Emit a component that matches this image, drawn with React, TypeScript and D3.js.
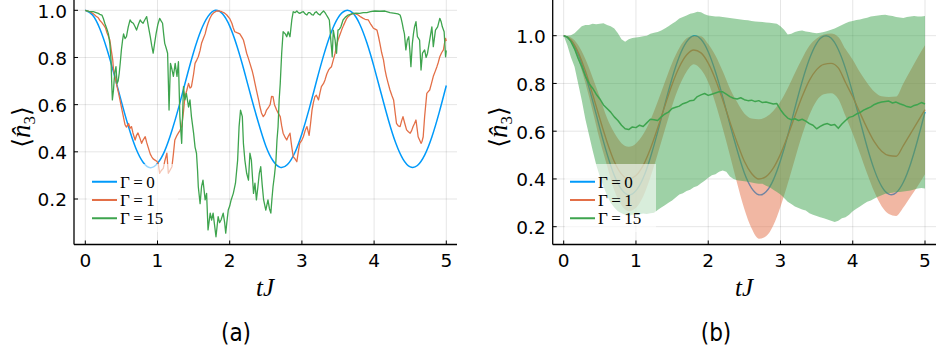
import React from "react";
import * as d3 from "d3";

// ---- shared labels and styling constants ----
const X_TICKS = [0, 1, 2, 3, 4, 5];
const Y_TICKS = [0.2, 0.4, 0.6, 0.8, 1.0];
const LEGEND_LABELS = ["Γ\u2009=\u20090", "Γ\u2009=\u20091", "Γ\u2009=\u200915"];
const SERIES_COLORS = ["#009AFA", "#E36F47", "#3EA44E"];
const PANEL_LABELS = ["(a)", "(b)"];

// sampling steps of the tabulated curves
const DT_COARSE = 0.1;
const DT_FINE = 0.05;

// Γ = 0 : coherent evolution of <n3>, sampled every 0.1
const gamma0 = [
  1.0, 0.98, 0.923, 0.835, 0.728, 0.613, 0.505, 0.415, 0.356, 0.333,
  0.351, 0.404, 0.49, 0.596, 0.712, 0.822, 0.913, 0.974, 1.0, 0.985,
  0.933, 0.849, 0.744, 0.629, 0.521, 0.425, 0.362, 0.334, 0.346, 0.395,
  0.477, 0.581, 0.697, 0.808, 0.902, 0.968, 0.998, 0.99, 0.942, 0.862,
  0.759, 0.645, 0.533, 0.437, 0.369, 0.336, 0.342, 0.386, 0.463, 0.565,
  0.681,
];

// single quantum trajectory, Γ = 1  ([tJ, <n3>])
const gamma1Traj: [number, number][] = [
  [0, 1], [0.04, 0.996], [0.08, 0.992], [0.11, 0.985], [0.15, 0.975], [0.18, 0.968], [0.2, 0.958],
  [0.23, 0.948], [0.26, 0.935], [0.28, 0.925], [0.3, 0.905], [0.32, 0.89], [0.34, 0.874], [0.36, 0.83],
  [0.38, 0.79], [0.39, 0.75], [0.41, 0.72], [0.43, 0.69], [0.46, 0.65], [0.48, 0.62], [0.5, 0.59],
  [0.52, 0.56], [0.55, 0.515], [0.57, 0.505], [0.6, 0.52], [0.62, 0.5], [0.64, 0.507], [0.66, 0.48],
  [0.69, 0.45], [0.71, 0.47], [0.73, 0.48], [0.76, 0.455], [0.78, 0.436], [0.8, 0.45], [0.83, 0.464],
  [0.85, 0.44], [0.87, 0.42], [0.9, 0.39], [0.92, 0.379], [0.94, 0.37], [0.965, 0.365], [0.99, 0.36],
  [1.01, 0.351], [1.03, 0.309], [1.05, 0.32], [1.08, 0.33], [1.1, 0.36], [1.13, 0.394], [1.14, 0.35],
  [1.15, 0.309], [1.17, 0.32], [1.2, 0.337], [1.22, 0.39], [1.24, 0.45], [1.27, 0.47], [1.29, 0.48],
  [1.31, 0.49], [1.335, 0.507], [1.36, 0.57], [1.38, 0.634], [1.405, 0.66], [1.43, 0.69], [1.45, 0.67],
  [1.47, 0.676], [1.5, 0.73], [1.52, 0.775], [1.545, 0.79], [1.565, 0.803], [1.59, 0.83], [1.61, 0.86],
  [1.635, 0.88], [1.66, 0.9], [1.68, 0.925], [1.7, 0.945], [1.725, 0.965], [1.75, 0.98], [1.78, 0.99],
  [1.82, 0.997], [1.86, 0.997], [1.89, 0.994], [1.93, 0.988], [1.96, 0.98], [2.0, 0.965], [2.03, 0.945],
  [2.05, 0.925], [2.07, 0.909], [2.1, 0.905], [2.14, 0.9], [2.17, 0.885], [2.19, 0.874], [2.21, 0.85],
  [2.235, 0.818], [2.26, 0.795], [2.28, 0.775], [2.31, 0.745], [2.33, 0.72], [2.35, 0.69], [2.37, 0.662],
  [2.4, 0.62], [2.42, 0.59], [2.44, 0.565], [2.465, 0.549], [2.49, 0.56], [2.51, 0.577], [2.54, 0.59],
  [2.56, 0.6], [2.58, 0.635], [2.6, 0.634], [2.62, 0.6], [2.65, 0.577], [2.67, 0.565], [2.7, 0.549],
  [2.72, 0.51], [2.74, 0.479], [2.77, 0.46], [2.79, 0.45], [2.81, 0.465], [2.835, 0.479], [2.86, 0.42],
  [2.88, 0.379], [2.905, 0.37], [2.93, 0.358], [2.95, 0.4], [2.97, 0.436], [3.0, 0.45], [3.02, 0.464],
  [3.045, 0.49], [3.07, 0.507], [3.1, 0.47], [3.12, 0.52], [3.14, 0.577], [3.16, 0.61], [3.18, 0.634],
  [3.2, 0.64], [3.23, 0.62], [3.25, 0.65], [3.27, 0.676], [3.3, 0.69], [3.32, 0.705], [3.345, 0.73],
  [3.37, 0.747], [3.39, 0.755], [3.41, 0.761], [3.435, 0.79], [3.46, 0.818], [3.48, 0.85], [3.5, 0.874],
  [3.525, 0.895], [3.55, 0.916], [3.575, 0.935], [3.6, 0.952], [3.62, 0.965], [3.64, 0.973], [3.675, 0.982],
  [3.71, 0.987], [3.745, 0.985], [3.78, 0.98], [3.815, 0.972], [3.85, 0.966], [3.875, 0.962], [3.92, 0.959],
  [3.955, 0.94], [3.99, 0.924], [4.015, 0.92], [4.04, 0.916], [4.06, 0.89], [4.08, 0.86], [4.105, 0.82],
  [4.13, 0.79], [4.15, 0.75], [4.17, 0.72], [4.195, 0.69], [4.22, 0.662], [4.245, 0.64], [4.27, 0.62],
  [4.29, 0.57], [4.31, 0.521], [4.335, 0.51], [4.36, 0.507], [4.38, 0.53], [4.4, 0.549], [4.425, 0.52],
  [4.45, 0.493], [4.475, 0.485], [4.5, 0.479], [4.52, 0.49], [4.54, 0.507], [4.56, 0.52], [4.58, 0.535],
  [4.595, 0.5], [4.61, 0.464], [4.63, 0.45], [4.65, 0.436], [4.665, 0.445], [4.68, 0.464], [4.7, 0.55],
  [4.73, 0.648], [4.75, 0.655], [4.77, 0.662], [4.795, 0.69], [4.82, 0.72], [4.845, 0.74], [4.87, 0.761],
  [4.89, 0.78], [4.91, 0.803], [4.935, 0.82], [4.96, 0.832], [4.975, 0.86], [4.99, 0.881], [5.0, 0.87],
];

// single quantum trajectory, Γ = 15  ([tJ, <n3>])
const gamma15Traj: [number, number][] = [
  [0, 1], [0.05, 0.995], [0.11, 0.994], [0.15, 0.99], [0.18, 0.987], [0.2, 0.983], [0.23, 0.98],
  [0.25, 0.965], [0.27, 0.945], [0.3, 0.92], [0.32, 0.9], [0.34, 0.86], [0.356, 0.79], [0.365, 0.7],
  [0.375, 0.62], [0.39, 0.66], [0.4, 0.705], [0.41, 0.74], [0.425, 0.761], [0.44, 0.69], [0.455, 0.7],
  [0.47, 0.733], [0.485, 0.78], [0.5, 0.832], [0.515, 0.87], [0.53, 0.9], [0.55, 0.88], [0.57, 0.888],
  [0.595, 0.93], [0.62, 0.959], [0.64, 0.95], [0.665, 0.945], [0.69, 0.93], [0.71, 0.916], [0.735, 0.94],
  [0.76, 0.959], [0.78, 0.95], [0.8, 0.945], [0.825, 0.96], [0.85, 0.973], [0.875, 0.93], [0.9, 0.888],
  [0.92, 0.85], [0.94, 0.818], [0.96, 0.86], [0.98, 0.9], [1.005, 0.94], [1.03, 0.966], [1.05, 0.955],
  [1.07, 0.945], [1.085, 0.9], [1.1, 0.86], [1.12, 0.84], [1.14, 0.818], [1.15, 0.7], [1.16, 0.577],
  [1.17, 0.68], [1.18, 0.775], [1.2, 0.75], [1.22, 0.72], [1.245, 0.775], [1.27, 0.72], [1.29, 0.782],
  [1.31, 0.55], [1.335, 0.436], [1.36, 0.676], [1.38, 0.62], [1.4, 0.648], [1.43, 0.59], [1.45, 0.62],
  [1.47, 0.549], [1.5, 0.479], [1.52, 0.42], [1.54, 0.394], [1.555, 0.32], [1.565, 0.252], [1.59, 0.18],
  [1.61, 0.252], [1.63, 0.28], [1.66, 0.196], [1.68, 0.224], [1.7, 0.069], [1.73, 0.14], [1.75, 0.111],
  [1.77, 0.14], [1.79, 0.09], [1.81, 0.04], [1.84, 0.125], [1.86, 0.1], [1.88, 0.111], [1.91, 0.14],
  [1.93, 0.1], [1.945, 0.055], [1.96, 0.1], [1.98, 0.153], [2.0, 0.17], [2.02, 0.196], [2.05, 0.224],
  [2.08, 0.267], [2.11, 0.365], [2.13, 0.507], [2.15, 0.577], [2.175, 0.549], [2.19, 0.436], [2.21, 0.365],
  [2.235, 0.309], [2.26, 0.28], [2.28, 0.394], [2.3, 0.365], [2.33, 0.224], [2.35, 0.267], [2.37, 0.196],
  [2.39, 0.25], [2.41, 0.309], [2.43, 0.337], [2.45, 0.26], [2.47, 0.196], [2.5, 0.153], [2.53, 0.196],
  [2.55, 0.16], [2.57, 0.14], [2.585, 0.2], [2.6, 0.252], [2.62, 0.3], [2.64, 0.36], [2.655, 0.45],
  [2.67, 0.507], [2.685, 0.62], [2.7, 0.69], [2.72, 0.818], [2.74, 0.909], [2.77, 0.9], [2.79, 0.888],
  [2.81, 0.909], [2.835, 0.888], [2.86, 0.959], [2.88, 0.994], [2.905, 0.99], [2.93, 0.997], [2.95, 0.99],
  [2.97, 0.987], [3.0, 0.992], [3.02, 0.994], [3.045, 0.985], [3.07, 0.98], [3.09, 0.99], [3.11, 0.99],
  [3.135, 0.982], [3.16, 0.98], [3.18, 0.99], [3.2, 0.994], [3.225, 0.985], [3.25, 0.98], [3.275, 0.99],
  [3.3, 0.997], [3.32, 0.99], [3.34, 0.98], [3.36, 0.97], [3.38, 0.959], [3.39, 0.92], [3.4, 0.874],
  [3.41, 0.84], [3.42, 0.803], [3.435, 0.916], [3.45, 0.89], [3.46, 0.874], [3.47, 0.84], [3.48, 0.818],
  [3.49, 0.87], [3.5, 0.916], [3.52, 0.92], [3.54, 0.93], [3.57, 0.959], [3.6, 0.97], [3.64, 0.98],
  [3.67, 0.983], [3.71, 0.987], [3.75, 0.988], [3.8, 0.987], [3.85, 0.99], [3.9, 0.99], [3.95, 0.994],
  [4.01, 0.997], [4.08, 0.996], [4.15, 0.997], [4.22, 0.99], [4.29, 0.987], [4.33, 0.985], [4.36, 0.98],
  [4.375, 0.965], [4.39, 0.945], [4.405, 0.92], [4.42, 0.9], [4.44, 0.832], [4.46, 0.874], [4.48, 0.888],
  [4.495, 0.83], [4.51, 0.761], [4.53, 0.86], [4.545, 0.9], [4.56, 0.93], [4.58, 0.952], [4.6, 0.888],
  [4.63, 0.874], [4.65, 0.747], [4.67, 0.818], [4.7, 0.832], [4.72, 0.8], [4.74, 0.818], [4.77, 0.874],
  [4.8, 0.93], [4.82, 0.846], [4.85, 0.916], [4.88, 0.93], [4.91, 0.966], [4.93, 0.95], [4.945, 0.93],
  [4.97, 0.909], [4.99, 0.803], [5.0, 0.83],
];

// ensemble average and spread, Γ = 1, sampled every 0.1
const gamma1Mean = [
  1.0, 0.982, 0.931, 0.852, 0.755, 0.652, 0.555, 0.473, 0.42, 0.4,
  0.414, 0.457, 0.527, 0.613, 0.706, 0.796, 0.869, 0.919, 0.94, 0.928,
  0.885, 0.817, 0.732, 0.639, 0.552, 0.474, 0.423, 0.4, 0.41, 0.445,
  0.504, 0.58, 0.664, 0.745, 0.813, 0.858, 0.88, 0.884, 0.865, 0.804,
  0.744, 0.677, 0.612, 0.555, 0.516, 0.498, 0.495, 0.54, 0.59, 0.64,
  0.69,
];
const gamma1Std = [
  0, 0.01, 0.03, 0.05, 0.07, 0.09, 0.1, 0.12, 0.13, 0.135,
  0.135, 0.13, 0.12, 0.11, 0.1, 0.09, 0.08, 0.07, 0.06, 0.07,
  0.08, 0.1, 0.12, 0.14, 0.17, 0.2, 0.23, 0.25, 0.25, 0.24,
  0.22, 0.2, 0.18, 0.16, 0.145, 0.13, 0.125, 0.125, 0.13, 0.14,
  0.155, 0.17, 0.19, 0.21, 0.23, 0.245, 0.25, 0.26, 0.265, 0.27,
  0.27,
];

// ensemble average and band, Γ = 15, sampled every 0.05
const gamma15Mean = [
  1.0, 0.995, 0.975, 0.945, 0.905, 0.87, 0.83, 0.8, 0.78, 0.755,
  0.735, 0.71, 0.695, 0.68, 0.66, 0.645, 0.625, 0.61, 0.607, 0.618,
  0.615, 0.625, 0.62, 0.635, 0.65, 0.648, 0.645, 0.66, 0.672, 0.68,
  0.695, 0.7, 0.705, 0.715, 0.72, 0.728, 0.73, 0.745, 0.752, 0.758,
  0.75, 0.755, 0.76, 0.765, 0.765, 0.755, 0.745, 0.738, 0.735, 0.74,
  0.732, 0.728, 0.73, 0.724, 0.728, 0.72, 0.722, 0.718, 0.714, 0.716,
  0.69, 0.67, 0.655, 0.648, 0.652, 0.645, 0.65, 0.642, 0.632, 0.625,
  0.61, 0.62, 0.628, 0.632, 0.625, 0.628, 0.612, 0.63, 0.645, 0.658,
  0.662, 0.672, 0.678, 0.688, 0.695, 0.702, 0.712, 0.718, 0.722, 0.724,
  0.726, 0.718, 0.722, 0.715, 0.71, 0.703, 0.7, 0.708, 0.712, 0.72,
  0.714,
];
const gamma15Upper = [
  1.0, 1.0, 1.002, 1.01, 1.025, 1.04, 1.045, 1.045, 1.05, 1.048,
  1.05, 1.052, 1.045, 1.04, 1.03, 1.01, 0.985, 0.975, 0.985, 0.99,
  0.992, 0.995, 0.998, 1.0, 1.008, 1.012, 1.015, 1.022, 1.03, 1.04,
  1.05, 1.06, 1.072, 1.078, 1.085, 1.092, 1.095, 1.1, 1.098, 1.09,
  1.085, 1.083, 1.08, 1.08, 1.078, 1.076, 1.074, 1.072, 1.07, 1.068,
  1.066, 1.065, 1.062, 1.06, 1.058, 1.057, 1.055, 1.054, 1.052, 1.05,
  1.04, 1.025, 1.005, 1.008, 1.015, 1.02, 1.022, 1.018, 1.015, 1.012,
  1.01, 1.012, 1.015, 1.02, 1.025, 1.03, 1.038, 1.045, 1.052, 1.058,
  1.062, 1.066, 1.068, 1.072, 1.075, 1.08, 1.082, 1.085, 1.087, 1.088,
  1.085, 1.082, 1.078, 1.076, 1.074, 1.078, 1.08, 1.083, 1.08, 1.08,
  1.082,
];
const gamma15Lower = [
  1.0, 0.96, 0.91, 0.87, 0.8, 0.73, 0.65, 0.585, 0.52, 0.46,
  0.41, 0.37, 0.33, 0.3, 0.28, 0.265, 0.256, 0.25, 0.245, 0.25,
  0.25, 0.252, 0.255, 0.253, 0.256, 0.258, 0.27, 0.28, 0.29, 0.3,
  0.31, 0.322, 0.335, 0.34, 0.35, 0.355, 0.365, 0.37, 0.382, 0.392,
  0.405, 0.415, 0.42, 0.43, 0.435, 0.43, 0.41, 0.4, 0.395, 0.392,
  0.39, 0.388, 0.385, 0.382, 0.38, 0.38, 0.372, 0.365, 0.355, 0.345,
  0.335, 0.32, 0.305, 0.295, 0.285, 0.278, 0.272, 0.268, 0.256, 0.25,
  0.245, 0.24, 0.235, 0.23, 0.225, 0.22, 0.225, 0.235, 0.24, 0.25,
  0.265, 0.275, 0.285, 0.295, 0.305, 0.31, 0.318, 0.325, 0.332, 0.338,
  0.34, 0.342, 0.345, 0.345, 0.347, 0.35, 0.352, 0.356, 0.36, 0.362,
  0.36,
];

// ---- layout ----
const WIDTH = 936;
const HEIGHT = 358;

type Frame = {
  left: number;
  right: number;
  top: number;
  bottom: number;
  xRange: [number, number];
  yRange: [number, number];
  yLabelX: number;
  xLabelX: number;
  captionX: number;
  legendX: number;
};

const FRAME_A: Frame = {
  left: 74, right: 457, top: 0, bottom: 244.5,
  xRange: [85.3, 446.3], yRange: [199, 10.3],
  yLabelX: 22, xLabelX: 265, captionX: 236, legendX: 87,
};
const FRAME_B: Frame = {
  left: 552.7, right: 936, top: 0, bottom: 244.5,
  xRange: [563.7, 925], yRange: [226.7, 35.7],
  yLabelX: 499, xLabelX: 744, captionX: 716, legendX: 565,
};

const TICK_FONT = "'DejaVu Sans', sans-serif";
const MATH_FONT = "'Liberation Serif', 'DejaVu Serif', serif";

type Pt = [number, number];

function scalesFor(f: Frame) {
  const x = d3.scaleLinear().domain([0, 5]).range(f.xRange);
  const y = d3.scaleLinear().domain([0.2, 1.0]).range(f.yRange);
  return { x, y };
}

const sampled = (values: number[], dt: number): Pt[] => values.map((v, i) => [i * dt, v]);

function Frame({ f, id, children }: { f: Frame; id: string; children: React.ReactNode }) {
  const { x, y } = scalesFor(f);
  return (
    <g>
      <defs>
        <clipPath id={id}>
          <rect x={f.left} y={f.top} width={f.right - f.left} height={f.bottom - f.top} />
        </clipPath>
      </defs>
      {/* grid */}
      <g stroke="#000" strokeOpacity={0.1} strokeWidth={1}>
        {X_TICKS.map((t) => (
          <line key={"gx" + t} x1={x(t)} x2={x(t)} y1={f.top} y2={f.bottom} />
        ))}
        {Y_TICKS.map((v) => (
          <line key={"gy" + v} x1={f.left} x2={f.right} y1={y(v)} y2={y(v)} />
        ))}
      </g>
      <g clipPath={`url(#${id})`}>{children}</g>
      {/* axes */}
      <g stroke="#000" strokeWidth={1.3}>
        <line x1={f.left} x2={f.left} y1={f.top} y2={f.bottom} />
        <line x1={f.left} x2={f.right} y1={f.bottom} y2={f.bottom} />
        {X_TICKS.map((t) => (
          <line key={"tx" + t} x1={x(t)} x2={x(t)} y1={f.bottom} y2={f.bottom - 4} strokeWidth={1} />
        ))}
        {Y_TICKS.map((v) => (
          <line key={"ty" + v} x1={f.left} x2={f.left + 4} y1={y(v)} y2={y(v)} strokeWidth={1} />
        ))}
      </g>
      <g fontFamily={TICK_FONT} fontSize={18.5} fill="#000">
        {X_TICKS.map((t) => (
          <text key={"lx" + t} x={x(t)} y={267} textAnchor="middle">
            {String(t)}
          </text>
        ))}
        {Y_TICKS.map((v) => (
          <text key={"ly" + v} x={f.left - 7} y={y(v) + 7.3} textAnchor="end">
            {d3.format(".1f")(v)}
          </text>
        ))}
      </g>
      {/* axis titles */}
      <text x={f.xLabelX} y={296} textAnchor="middle" fontFamily={MATH_FONT} fontStyle="italic" fontSize={25}>
        tJ
      </text>
      <text
        transform={`translate(${f.yLabelX},127) rotate(-90)`}
        textAnchor="middle"
        fontFamily={MATH_FONT}
        fontSize={27}
        dy={8}
      >
        <tspan fontFamily="'DejaVu Serif', serif" fontSize={25}>⟨</tspan>
        <tspan fontStyle="italic">n̂</tspan>
        <tspan fontSize={17} dy={5}>3</tspan>
        <tspan fontFamily="'DejaVu Serif', serif" fontSize={25} dy={-5}>⟩</tspan>
      </text>
    </g>
  );
}

function Legend({ x0 }: { x0: number }) {
  const top = 164;
  const rowGap = 18.3;
  return (
    <g>
      <rect x={x0} y={top} width={91} height={68} fill="#fff" fillOpacity={0.6} />
      {LEGEND_LABELS.map((label, i) => {
        const cy = top + 17.7 + i * rowGap;
        return (
          <g key={label}>
            <line x1={x0 + 5} x2={x0 + 30} y1={cy} y2={cy} stroke={SERIES_COLORS[i]} strokeWidth={2} />
            <text x={x0 + 33} y={cy + 5.8} fontFamily={MATH_FONT} fontSize={17} fill="#000">
              {label}
            </text>
          </g>
        );
      })}
    </g>
  );
}

function PanelA() {
  const { x, y } = scalesFor(FRAME_A);
  const smooth = d3.line<Pt>().x((d) => x(d[0])).y((d) => y(d[1])).curve(d3.curveNatural);
  const jagged = d3.line<Pt>().x((d) => x(d[0])).y((d) => y(d[1]));
  return (
    <Frame f={FRAME_A} id="clip-a">
      <path d={smooth(sampled(gamma0, DT_COARSE)) ?? ""} fill="none" stroke={SERIES_COLORS[0]} strokeWidth={1.5} />
      <path d={jagged(gamma1Traj) ?? ""} fill="none" stroke={SERIES_COLORS[1]} strokeWidth={1.3} strokeLinejoin="round" />
      <path d={jagged(gamma15Traj) ?? ""} fill="none" stroke={SERIES_COLORS[2]} strokeWidth={1.3} strokeLinejoin="round" />
      <Legend x0={FRAME_A.legendX} />
    </Frame>
  );
}

function PanelB() {
  const { x, y } = scalesFor(FRAME_B);
  const smooth = d3.line<Pt>().x((d) => x(d[0])).y((d) => y(d[1])).curve(d3.curveNatural);
  const mono = d3.line<Pt>().x((d) => x(d[0])).y((d) => y(d[1])).curve(d3.curveMonotoneX);
  const jagged = d3.line<Pt>().x((d) => x(d[0])).y((d) => y(d[1]));

  type Band = { t: number; lo: number; hi: number };
  const band1: Band[] = gamma1Mean.map((m, i) => ({ t: i * DT_COARSE, lo: m - gamma1Std[i], hi: m + gamma1Std[i] }));
  const band15: Band[] = gamma15Mean.map((_, i) => ({ t: i * DT_FINE, lo: gamma15Lower[i], hi: gamma15Upper[i] }));
  const smoothArea = d3
    .area<Band>()
    .x((d) => x(d.t))
    .y0((d) => y(d.lo))
    .y1((d) => y(d.hi))
    .curve(d3.curveMonotoneX);
  const rawArea = d3
    .area<Band>()
    .x((d) => x(d.t))
    .y0((d) => y(d.lo))
    .y1((d) => y(d.hi));

  return (
    <Frame f={FRAME_B} id="clip-b">
      <path d={smooth(sampled(gamma0, DT_COARSE)) ?? ""} fill="none" stroke={SERIES_COLORS[0]} strokeWidth={1.4} />
      <path d={smoothArea(band1) ?? ""} fill={SERIES_COLORS[1]} fillOpacity={0.5} stroke="none" />
      <path d={mono(sampled(gamma1Mean, DT_COARSE)) ?? ""} fill="none" stroke={SERIES_COLORS[1]} strokeWidth={1.4} />
      <path d={rawArea(band15) ?? ""} fill={SERIES_COLORS[2]} fillOpacity={0.5} stroke="none" />
      <path d={jagged(sampled(gamma15Mean, DT_FINE)) ?? ""} fill="none" stroke={SERIES_COLORS[2]} strokeWidth={1.5} strokeLinejoin="round" />
      <Legend x0={FRAME_B.legendX} />
    </Frame>
  );
}

export default function App() {
  return (
    <svg
      width={WIDTH}
      height={HEIGHT}
      viewBox={`0 0 ${WIDTH} ${HEIGHT}`}
      style={{ position: "absolute", left: 0, top: 0, display: "block", background: "#fff" }}
    >
      <PanelA />
      <PanelB />
      <g fontFamily="'DejaVu Sans Condensed', 'DejaVu Sans', sans-serif" fontSize={24} textAnchor="middle">
        <text x={FRAME_A.captionX} y={341}>{PANEL_LABELS[0]}</text>
        <text x={FRAME_B.captionX} y={341}>{PANEL_LABELS[1]}</text>
      </g>
    </svg>
  );
}
